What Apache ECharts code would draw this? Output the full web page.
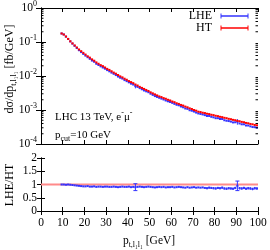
<!DOCTYPE html>
<html><head><meta charset="utf-8">
<script src="https://cdn.jsdelivr.net/npm/echarts@6/dist/echarts.min.js"></script>
<style>html,body{margin:0;padding:0;background:#fff}#c{width:270px;height:250px}</style>
</head><body><div id="c"></div>
<script>
// bins: 1 GeV wide, lower edges 9..99
const binWidth = 1;
const ptBinLow = Array.from({length: 91}, (_, i) => 9 + i);

// HT: dsigma/dpt [fb/GeV]
const htValues = [
 0.178,0.166,0.145,0.123,0.105,0.0912,0.0794,0.0692,0.0603,0.0537,
 0.0479,0.0427,0.0380,0.0347,0.0309,0.0282,0.0251,0.0229,0.0209,0.0195,
 0.0178,0.0162,0.0151,0.0138,0.0126,0.0117,0.0107,0.00977,0.00912,0.00832,
 0.00776,0.00708,0.00661,0.00617,0.00562,0.00525,0.00479,0.00447,0.00417,0.00389,
 0.00363,0.00331,0.00309,0.00288,0.00269,0.00251,0.00240,0.00224,0.00214,0.00200,
 0.00191,0.00178,0.00170,0.00158,0.00151,0.00141,0.00135,0.00126,0.00120,0.00112,
 0.00107,0.00100,0.000955,0.000891,0.000871,0.000832,0.000813,0.000776,0.000759,0.000724,
 0.000708,0.000676,0.000661,0.000631,0.000617,0.000589,0.000575,0.000550,0.000537,0.000513,
 0.000501,0.000479,0.000468,0.000447,0.000437,0.000417,0.000407,0.000389,0.000380,0.000363,0.000355
];

// LHE/HT ratio and its error
const ratioValues = [
 1.00,1.00,0.99,1.00,0.99,0.98,0.97,0.96,0.95,0.94,
 0.93,0.93,0.94,0.92,0.92,0.93,0.91,0.92,0.92,0.91,
 0.92,0.92,0.91,0.91,0.92,0.91,0.90,0.91,0.92,0.91,
 0.91,0.92,0.90,0.91,0.90,0.91,0.92,0.91,0.90,0.91,
 0.92,0.91,0.90,0.89,0.90,0.91,0.90,0.91,0.89,0.90,
 0.90,0.91,0.89,0.90,0.91,0.90,0.89,0.88,0.90,0.88,
 0.89,0.90,0.88,0.89,0.88,0.89,0.87,0.86,0.88,0.87,
 0.86,0.85,0.87,0.86,0.88,0.85,0.84,0.86,0.85,0.84,
 0.87,0.95,0.86,0.85,0.87,0.84,0.86,0.85,0.83,0.86,0.85
];
const ratioErrors = [
 0.008,0.008,0.009,0.009,0.010,0.010,0.010,0.011,0.011,0.012,
 0.012,0.012,0.013,0.013,0.013,0.014,0.014,0.015,0.015,0.015,
 0.016,0.016,0.017,0.017,0.017,0.018,0.018,0.019,0.019,0.020,
 0.020,0.020,0.021,0.021,0.130,0.022,0.022,0.023,0.023,0.024,
 0.024,0.025,0.025,0.026,0.026,0.027,0.027,0.028,0.028,0.029,
 0.029,0.030,0.030,0.031,0.031,0.032,0.032,0.033,0.033,0.034,
 0.034,0.035,0.035,0.036,0.036,0.037,0.037,0.038,0.038,0.039,
 0.039,0.040,0.040,0.041,0.041,0.042,0.042,0.043,0.043,0.044,
 0.044,0.180,0.045,0.045,0.046,0.046,0.047,0.047,0.048,0.048,0.049
];

const xTicks = [0,10,20,30,40,50,60,70,80,90,100];
const logTickExps = [0,-1,-2,-3,-4];
const ratioTicks = [0,0.5,1,1.5,2];

const FONT = 'Liberation Serif';
const RED = '#ff0000', BLUE = '#3333ff', PINK = '#ff8a8a';

const htData = ptBinLow.map((lo, i) => [lo, lo + binWidth, htValues[i], 0]);
const lheData = ptBinLow.map((lo, i) => [lo, lo + binWidth, htValues[i] * ratioValues[i], htValues[i] * ratioErrors[i]]);
const ratioData = ptBinLow.map((lo, i) => [lo, lo + binWidth, ratioValues[i], ratioErrors[i]]);

// log minor ticks 2..9 x 10^k
const minorTickVals = [];
for (let k = -4; k < 0; k++) for (let m = 2; m <= 9; m++) minorTickVals.push([0, m * Math.pow(10, k)]);

function errRender(color, hw, vw) {
  return function (params, api) {
    const lo = api.value(0), hi = api.value(1), v = api.value(2), e = api.value(3);
    const a = api.coord([lo, v]), b = api.coord([hi, v]);
    const c = (lo + hi) / 2;
    const children = [{type: 'line', shape: {x1: a[0], y1: a[1], x2: b[0], y2: b[1]}, style: {stroke: color, lineWidth: hw}}];
    if (e > 0) {
      const t = api.coord([c, v + e]), d = api.coord([c, v - e]);
      if (Math.abs(d[1] - t[1]) > 2) {
        children.push({type: 'line', shape: {x1: t[0], y1: t[1], x2: d[0], y2: d[1]}, style: {stroke: color, lineWidth: vw}});
        if (Math.abs(d[1] - t[1]) > 6) {
          children.push({type: 'line', shape: {x1: t[0] - 2, y1: t[1], x2: t[0] + 2, y2: t[1]}, style: {stroke: color, lineWidth: 1}});
          children.push({type: 'line', shape: {x1: d[0] - 2, y1: d[1], x2: d[0] + 2, y2: d[1]}, style: {stroke: color, lineWidth: 1}});
        }
      }
    }
    return {type: 'group', children};
  };
}

function minorRender(params, api) {
  const cs = params.coordSys;
  const y = api.coord([0, api.value(1)])[1];
  return {type: 'group', children: [
    {type: 'line', shape: {x1: cs.x, y1: y, x2: cs.x + 2.5, y2: y}, style: {stroke: '#000', lineWidth: 1}},
    {type: 'line', shape: {x1: cs.x + cs.width - 2.5, y1: y, x2: cs.x + cs.width, y2: y}, style: {stroke: '#000', lineWidth: 1}}
  ]};
}

const axLine = {show: true, lineStyle: {color: '#000', width: 1}};
const tick = (len) => ({show: true, inside: true, length: len, lineStyle: {color: '#000', width: 1}});
const labelStyle = {color: '#000', fontFamily: FONT, fontSize: 11.5};

function xAx(grid, pos, showLabel) {
  return {gridIndex: grid, type: 'value', min: xTicks[0], max: xTicks[xTicks.length - 1], interval: 10, position: pos,
    axisLine: axLine, axisTick: tick(4), splitLine: {show: false},
    axisLabel: showLabel ? Object.assign({margin: 6}, labelStyle) : {show: false}};
}

const option = {
  animation: false,
  backgroundColor: '#fff',
  grid: [
    {left: 41, top: 6, width: 217, height: 138},
    {left: 41, top: 158, width: 217, height: 53}
  ],
  xAxis: [xAx(0, 'bottom', false), xAx(0, 'top', false), xAx(1, 'bottom', true), xAx(1, 'top', false)],
  yAxis: [
    {gridIndex: 0, type: 'log', logBase: 10, min: Math.pow(10, logTickExps[4]), max: Math.pow(10, logTickExps[0]), position: 'left',
      axisLine: axLine, axisTick: tick(5), splitLine: {show: false},
      axisLabel: Object.assign({margin: 4, formatter: v => '10{sup|' + Math.round(Math.log10(v)) + '}',
        rich: {sup: {fontSize: 8, fontFamily: FONT, color: '#000', verticalAlign: 'top', lineHeight: 8}}, lineHeight: 16}, labelStyle)},
    {gridIndex: 0, type: 'log', logBase: 10, min: Math.pow(10, logTickExps[4]), max: Math.pow(10, logTickExps[0]), position: 'right',
      axisLine: axLine, axisTick: tick(5), splitLine: {show: false}, axisLabel: {show: false}},
    {gridIndex: 1, type: 'value', min: ratioTicks[0], max: ratioTicks[4], interval: 0.5, position: 'left',
      axisLine: axLine, axisTick: tick(4), splitLine: {show: false}, axisLabel: Object.assign({margin: 4}, labelStyle)},
    {gridIndex: 1, type: 'value', min: ratioTicks[0], max: ratioTicks[4], interval: 0.5, position: 'right',
      axisLine: axLine, axisTick: tick(4), splitLine: {show: false}, axisLabel: {show: false}}
  ],
  series: [
    {type: 'custom', name: 'minor', xAxisIndex: 0, yAxisIndex: 0, data: minorTickVals, renderItem: minorRender, silent: true, z: 5},
    {type: 'custom', name: 'LHE', xAxisIndex: 0, yAxisIndex: 0, data: lheData, renderItem: errRender(BLUE, 2, 1), encode: {x: [0, 1], y: 2}, z: 2},
    {type: 'custom', name: 'HT', xAxisIndex: 0, yAxisIndex: 0, data: htData, renderItem: errRender(RED, 2, 1), encode: {x: [0, 1], y: 2}, z: 3},
    {type: 'line', name: 'HT/HT', xAxisIndex: 2, yAxisIndex: 2, data: [[0, 1], [100, 1]], symbol: 'none',
      lineStyle: {color: PINK, width: 2}, z: 2},
    {type: 'custom', name: 'LHE/HT', xAxisIndex: 2, yAxisIndex: 2, data: ratioData, renderItem: errRender(BLUE, 2, 1), encode: {x: [0, 1], y: 2}, z: 3}
  ],
  graphic: [
    {type: 'text', x: 10, y: 69, rotation: Math.PI / 2, style: {text: 'dσ/dp{sub|t,l₁l₁} [fb/GeV]', fill: '#000',
      font: '12px "Liberation Serif"', align: 'center', verticalAlign: 'middle', lineHeight: 16,
      rich: {sub: {fontSize: 8, fontFamily: FONT, verticalAlign: 'bottom', lineHeight: 8}}}},
    {type: 'text', x: 10, y: 185, rotation: Math.PI / 2, style: {text: 'LHE/HT', fill: '#000', font: '12px "Liberation Serif"',
      align: 'center', verticalAlign: 'middle'}},
    {type: 'text', x: 149, y: 241, style: {text: 'p{sub|t,l₁l₁} [GeV]', fill: '#000', font: '11.5px "Liberation Serif"',
      align: 'center', verticalAlign: 'middle', lineHeight: 16,
      rich: {sub: {fontSize: 8, fontFamily: FONT, verticalAlign: 'bottom', lineHeight: 8}}}},
    {type: 'text', x: 55, y: 117, style: {text: 'LHC 13 TeV, e{sup|-}μ{sup|-}', fill: '#000', font: '11px "Liberation Serif"',
      align: 'left', verticalAlign: 'middle', lineHeight: 16,
      rich: {sup: {fontSize: 8, fontFamily: FONT, verticalAlign: 'top', lineHeight: 8}}}},
    {type: 'text', x: 55, y: 135, style: {text: 'p{sub|cut}=10 GeV', fill: '#000', font: '11px "Liberation Serif"',
      align: 'left', verticalAlign: 'middle', lineHeight: 16,
      rich: {sub: {fontSize: 8, fontFamily: FONT, verticalAlign: 'bottom', lineHeight: 8}}}},
    {type: 'text', x: 212, y: 16, style: {text: 'LHE', fill: '#000', font: '12px "Liberation Serif"', align: 'right', verticalAlign: 'middle'}},
    {type: 'line', shape: {x1: 221, y1: 16, x2: 248, y2: 16}, style: {stroke: BLUE, lineWidth: 1.5}},
    {type: 'line', shape: {x1: 221, y1: 13.5, x2: 221, y2: 18.5}, style: {stroke: BLUE, lineWidth: 1}},
    {type: 'line', shape: {x1: 248, y1: 13.5, x2: 248, y2: 18.5}, style: {stroke: BLUE, lineWidth: 1}},
    {type: 'text', x: 212, y: 28, style: {text: 'HT', fill: '#000', font: '12px "Liberation Serif"', align: 'right', verticalAlign: 'middle'}},
    {type: 'line', shape: {x1: 221, y1: 28, x2: 248, y2: 28}, style: {stroke: RED, lineWidth: 1.5}},
    {type: 'line', shape: {x1: 221, y1: 25.5, x2: 221, y2: 30.5}, style: {stroke: RED, lineWidth: 1}},
    {type: 'line', shape: {x1: 248, y1: 25.5, x2: 248, y2: 30.5}, style: {stroke: RED, lineWidth: 1}}
  ]
};
const chart = echarts.init(document.getElementById('c'), null, {renderer: 'canvas'});
chart.setOption(option);
</script>
</body></html>
